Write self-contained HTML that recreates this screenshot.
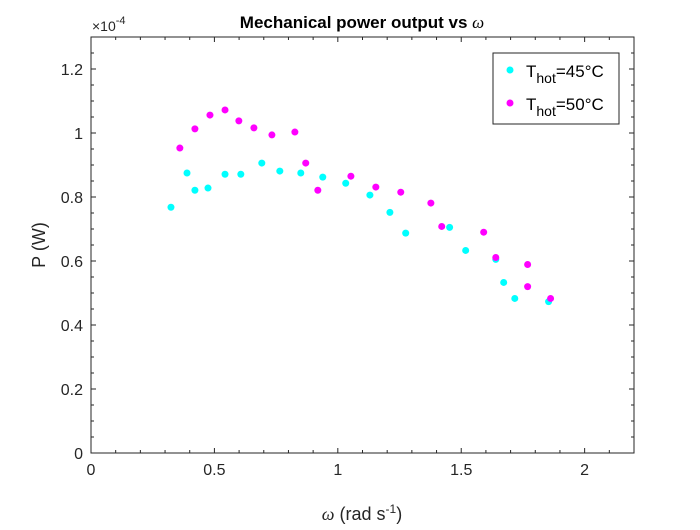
<!DOCTYPE html>
<html><head><meta charset="utf-8"><style>
body{margin:0;background:#fff;}
svg{font-family:"Liberation Sans",sans-serif;}
</style></head><body>
<svg id="chart" width="700" height="525" viewBox="0 0 700 525">
<rect x="0" y="0" width="700" height="525" fill="#fff"/>
<g id="axes"></g>
<g id="marks"></g>
<text x="362" y="28" text-anchor="middle" font-size="17" font-weight="bold">Mechanical power output vs <tspan font-family="Liberation Serif" font-style="italic" font-weight="normal">ω</tspan></text>
<text x="92" y="31" font-size="14" fill="#262626">×10<tspan dy="-7" font-size="11">-4</tspan></text>
<text x="362" y="520" text-anchor="middle" font-size="18" fill="#262626"><tspan font-family="Liberation Serif" font-style="italic">ω</tspan> (rad s<tspan dy="-7" font-size="12">-1</tspan><tspan dy="7">)</tspan></text>
<text transform="translate(45,245) rotate(-90)" text-anchor="middle" font-size="18" fill="#262626">P (W)</text>
<g>
<rect x="493" y="53" width="126" height="71" fill="#fff" stroke="#262626" stroke-width="1"/>
<circle cx="510" cy="70" r="3.5" fill="#00ffff"/>
<text x="526" y="77" font-size="17">T<tspan dy="6" font-size="14">hot</tspan><tspan dy="-6">=45°C</tspan></text>
<circle cx="510" cy="103" r="3.5" fill="#ff00ff"/>
<text x="526" y="110" font-size="17">T<tspan dy="6" font-size="14">hot</tspan><tspan dy="-6">=50°C</tspan></text>
</g>
</svg>
<script>
const xTicks=[0,0.5,1,1.5,2];
const xTickLabels=["0","0.5","1","1.5","2"];
const yTicks=[0,0.2,0.4,0.6,0.8,1,1.2];
const yTickLabels=["0","0.2","0.4","0.6","0.8","1","1.2"];
const x45=[0.324,0.389,0.421,0.474,0.543,0.607,0.692,0.765,0.850,0.939,1.032,1.130,1.211,1.275,1.453,1.518,1.640,1.672,1.717,1.854];
const y45=[0.768,0.875,0.821,0.828,0.871,0.871,0.906,0.881,0.875,0.862,0.843,0.806,0.752,0.687,0.705,0.633,0.605,0.533,0.483,0.473];
const x50=[0.360,0.421,0.482,0.543,0.599,0.660,0.733,0.826,0.870,0.919,1.053,1.154,1.255,1.377,1.421,1.591,1.640,1.769,1.769,1.862];
const y50=[0.953,1.013,1.056,1.072,1.038,1.016,0.994,1.003,0.906,0.821,0.865,0.831,0.815,0.781,0.708,0.690,0.611,0.589,0.520,0.483];
const X0=91,X1=634,Y0=453,Y1=37,xmax=2.2,ymax=1.3;
const sx=v=>X0+v/xmax*(X1-X0), sy=v=>Y0-v/ymax*(Y0-Y1);
const NS="http://www.w3.org/2000/svg";
function mk(t,a,p){const e=document.createElementNS(NS,t);for(const k in a)e.setAttribute(k,a[k]);p.appendChild(e);return e;}
const ax=document.getElementById('axes'),mg=document.getElementById('marks');
const box=mk('rect',{x:X0,y:Y1,width:X1-X0,height:Y0-Y1,fill:'none',stroke:'#262626','stroke-width':1},ax);


for(let v=0;v<=2.2001;v+=0.1){const x=sx(v);const major=Math.abs(v*2-Math.round(v*2))<1e-6;const L=major?5:3;
mk('line',{x1:x,x2:x,y1:Y0,y2:Y0-L,stroke:'#262626'},ax);mk('line',{x1:x,x2:x,y1:Y1,y2:Y1+L,stroke:'#262626'},ax);}
for(let v=0;v<=1.3001;v+=0.05){const y=sy(v);const major=Math.abs(v*5-Math.round(v*5))<1e-6;const L=major?5:3;
mk('line',{x1:X0,x2:X0+L,y1:y,y2:y,stroke:'#262626'},ax);mk('line',{x1:X1,x2:X1-L,y1:y,y2:y,stroke:'#262626'},ax);}
xTicks.forEach((v,i)=>{const t=mk('text',{x:sx(v),y:Y0+22,'text-anchor':'middle','font-size':16,fill:'#262626'},ax);t.textContent=xTickLabels[i];

});
yTicks.forEach((v,i)=>{const t=mk('text',{x:X0-8,y:sy(v)+6,'text-anchor':'end','font-size':16,fill:'#262626'},ax);t.textContent=yTickLabels[i];

});
x45.forEach((v,i)=>{const c=mk('circle',{cx:sx(v),cy:sy(y45[i]),r:3.5,fill:'#00ffff'},mg);

});
x50.forEach((v,i)=>{const c=mk('circle',{cx:sx(v),cy:sy(y50[i]),r:3.5,fill:'#ff00ff'},mg);

});
</script>
</body></html>
